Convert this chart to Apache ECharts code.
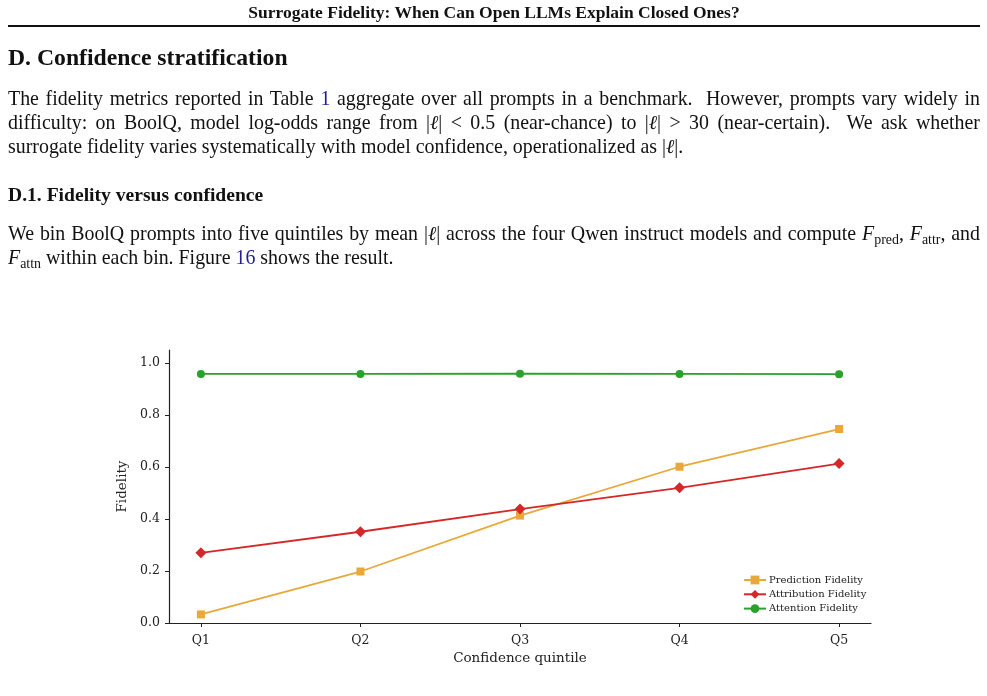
<!DOCTYPE html>
<html lang="en">
<head>
    <meta charset="UTF-8">
    <title>Confidence stratification</title>
    <script src="https://cdn.jsdelivr.net/npm/echarts@6/dist/echarts.min.js"></script>
    <style>
        body { margin: 0; background: #fff; }
        .pg { position: absolute; left: 8px; width: 972px; font-family: "Liberation Serif", serif; color: #111; white-space: nowrap; }
        .txt { font-size: 19.9px; line-height: 24px; }
        .full { text-align: justify; text-align-last: justify; }
        .lnk { color: #1f1f8f; }
        .m { display: inline-block; }
        sub { font-size: 0.7em; vertical-align: -0.3em; line-height: 0; }
    </style>
</head>
<body>
    <div id="chart" style="position:absolute; left:0; top:0; width:987px; height:696px"></div>

    <div class="pg" style="top:2px; font-size:17.5px; font-weight:bold; text-align:center; line-height:20px">Surrogate Fidelity: When Can Open LLMs Explain Closed Ones?</div>
    <div style="position:absolute; left:8px; top:25px; width:972px; height:1.6px; background:#111"></div>
    <div class="pg" style="top:42px; font-size:23.7px; font-weight:bold; line-height:30px">D. Confidence stratification</div>
    <div class="pg txt full" style="top:86px">The fidelity metrics reported in Table <span class="lnk">1</span> aggregate over all prompts in a benchmark.&nbsp; However, prompts vary widely in</div>
    <div class="pg txt full" style="top:109.5px">difficulty: on BoolQ, model log-odds range from <span class="m">|<i>ℓ</i>|</span> &lt; 0.5 (near-chance) to <span class="m">|<i>ℓ</i>|</span> &gt; 30 (near-certain).&nbsp; We ask whether</div>
    <div class="pg txt" style="top:133.5px">surrogate fidelity varies systematically with model confidence, operationalized as <span class="m">|<i>ℓ</i>|</span>.</div>
    <div class="pg txt" style="top:183px; font-weight:bold; font-size:19.6px">D.1. Fidelity versus confidence</div>
    <div class="pg txt full" style="top:221px">We bin BoolQ prompts into five quintiles by mean <span class="m">|<i>ℓ</i>|</span> across the four Qwen instruct models and compute <i>F</i><sub>pred</sub>, <i>F</i><sub>attr</sub>, and</div>
    <div class="pg txt" style="top:245px"><i>F</i><sub>attn</sub> within each bin. Figure <span class="lnk">16</span> shows the result.</div>

    <script type="text/javascript">
        var quintiles = ['Q1', 'Q2', 'Q3', 'Q4', 'Q5'];
        var predFidelity = [0.033, 0.198, 0.413, 0.601, 0.746];
        var attrFidelity = [0.270, 0.351, 0.438, 0.520, 0.613];
        var attnFidelity = [0.958, 0.958, 0.959, 0.958, 0.957];
        var yTicks = [0, 0.2, 0.4, 0.6, 0.8, 1.0];

        // pair each value with its quintile position
        function pts(arr) {
            return arr.map(function (v, i) { return [i, v]; });
        }
        var xTicks = quintiles.map(function (q, i) { return i; });

        var font = 'DejaVu Serif';
        var option = {
            animation: false,
            grid: { left: 169, right: 116, top: 350, bottom: 73 },
            legend: {
                orient: 'vertical',
                left: 738,
                top: 570,
                itemWidth: 22,
                itemHeight: 11,
                itemGap: 4.3,
                textStyle: { fontFamily: font, fontSize: 10, color: '#222', padding: [0, 0, 0, -2] },
                data: ['Prediction Fidelity', 'Attribution Fidelity', 'Attention Fidelity']
            },
            xAxis: {
                type: 'value',
                min: -0.2,
                max: 4.2,
                splitLine: { show: false },
                axisLine: { onZero: false, lineStyle: { color: '#222', width: 1.2 } },
                axisTick: { show: true, length: 4, customValues: xTicks, lineStyle: { color: '#222' } },
                axisLabel: {
                    customValues: xTicks,
                    formatter: function (v) { return quintiles[Math.round(v)]; },
                    fontFamily: font, fontSize: 12.5, color: '#222', margin: 11
                },
                name: 'Confidence quintile',
                nameLocation: 'middle',
                nameGap: 28,
                nameTextStyle: { fontFamily: font, fontSize: 13.5, color: '#222' }
            },
            yAxis: {
                type: 'value',
                min: 0,
                max: 1.05,
                splitLine: { show: false },
                axisLine: { show: true, onZero: false, lineStyle: { color: '#222', width: 1.2 } },
                axisTick: { show: true, length: 4, customValues: yTicks, lineStyle: { color: '#222' } },
                axisLabel: {
                    customValues: yTicks,
                    formatter: function (v) { return v.toFixed(1); },
                    fontFamily: font, fontSize: 12.5, color: '#222', margin: 9
                },
                name: 'Fidelity',
                nameLocation: 'middle',
                nameGap: 40,
                nameTextStyle: { fontFamily: font, fontSize: 13.5, color: '#222' }
            },
            series: [
                {
                    name: 'Prediction Fidelity',
                    type: 'line',
                    data: pts(predFidelity),
                    symbol: 'rect',
                    symbolSize: 8,
                    color: '#E9A83A',
                    lineStyle: { width: 1.8 }
                },
                {
                    name: 'Attribution Fidelity',
                    type: 'line',
                    data: pts(attrFidelity),
                    symbol: 'diamond',
                    symbolSize: 11,
                    color: '#D62728',
                    lineStyle: { width: 1.8 }
                },
                {
                    name: 'Attention Fidelity',
                    type: 'line',
                    data: pts(attnFidelity),
                    symbol: 'circle',
                    symbolSize: 8,
                    color: '#2CA02C',
                    lineStyle: { width: 1.8 }
                }
            ]
        };
        var myChart = echarts.init(document.getElementById('chart'));
        myChart.setOption(option);
    </script>
</body>
</html>
